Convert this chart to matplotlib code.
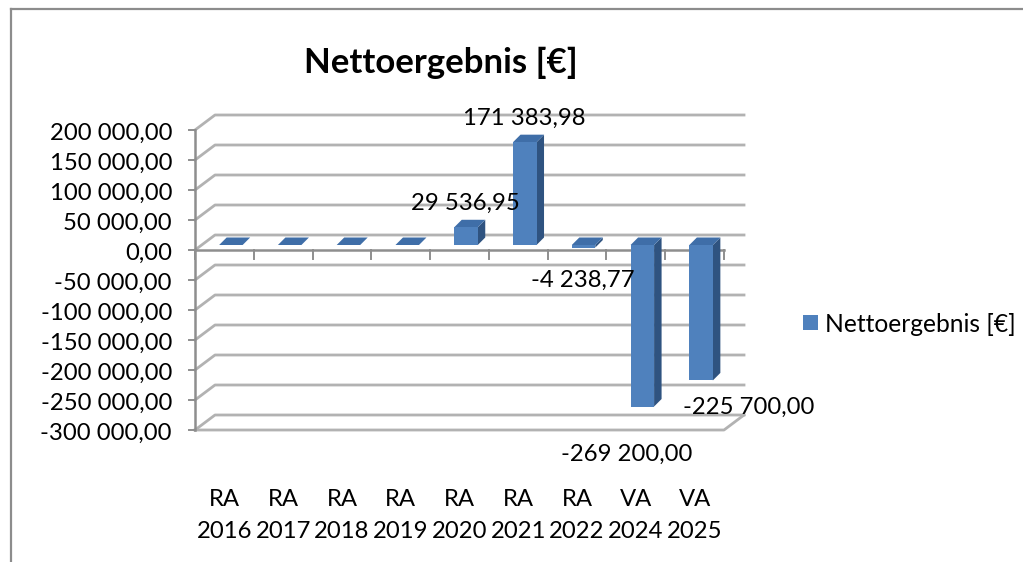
import matplotlib
matplotlib.use('Agg')
import matplotlib.pyplot as plt
from matplotlib.patches import Polygon

plt.rcParams['font.family'] = ['Lato', 'DejaVu Sans']

categories = ['RA\n2016', 'RA\n2017', 'RA\n2018', 'RA\n2019', 'RA\n2020', 'RA\n2021', 'RA\n2022', 'VA\n2024', 'VA\n2025']
values = [0, 0, 0, 0, 29536.95, 171383.98, -4238.77, -269200.00, -225700.00]
labels = [None, None, None, None, '29 536,95', '171 383,98', '-4 238,77', '-269 200,00', '-225 700,00']
label_pos = [None, None, None, None, (465, 201), (524, 116), (583, 278), (627, 452), (749, 405)]
y_ticks = list(range(-300000, 200001, 50000))

W, H = 1023, 562
FS = 17.2
fig = plt.figure(figsize=(W / 100, H / 100), dpi=100)
# plot area in pixels: x 195-724, y 130-430
ax = fig.add_axes([195 / W, 1 - 430 / H, 529 / W, 300 / H])
ax.set_xlim(0, len(categories))
ax.set_ylim(-300000, 200000)
ax.axis('off')

per_x = 529 / len(categories)   # px per category
per_y = 300 / 500000            # px per euro
GRID = '#b2b2b2'
AXC = '#8e8e8e'


def px(x0, dx=0):
    return x0 + dx / per_x


def py(y0, dy=0):
    return y0 + dy / per_y


# chart frame, only top and left are visible
fig.add_artist(plt.Line2D([11 / W, 1], [1 - 9 / H, 1 - 9 / H], color='#8c8c8c', lw=1.6))
fig.add_artist(plt.Line2D([11 / W, 11 / W], [0, 1 - 9 / H], color='#8c8c8c', lw=1.6))

# gridlines on the side and back wall
n = len(categories)
for t in y_ticks:
    ax.plot([0, px(0, 20), px(n, 20)], [t, py(t, 15), py(t, 15)], color=GRID, lw=2,
            clip_on=False, zorder=1)

# floor
ax.plot([0, n, px(n, 20)], [-300000, -300000, py(-300000, 15)], color=GRID, lw=2, clip_on=False, zorder=1)

# value axis and category axis with ticks
ax.plot([0, 0], [-300000, 200000], color=AXC, lw=1.8, clip_on=False, zorder=2)
for t in y_ticks:
    ax.plot([px(0, -6), 0], [t, t], color=AXC, lw=1.4, clip_on=False, zorder=2)
    txt = f'{t:,.2f}'.replace(',', ' ').replace('.', ',')
    ax.text(px(0, -23), py(t, -1), txt, ha='right', va='center_baseline', fontsize=FS, color='black', clip_on=False)
ax.plot([0, n], [0, 0], color=AXC, lw=1.8, clip_on=False, zorder=2)
for i in range(n + 1):
    ax.plot([i, i], [0, py(0, -9)], color=AXC, lw=1.4, clip_on=False, zorder=2)

# bars with fake depth
FRONT = '#4f81bd'
TOP = '#3f6ea8'
SIDE = '#2f5380'
bw = 23.5
depth = 7.5
for i, v in enumerate(values):
    x0 = px(i + 0.5, 6.5 - bw / 2)
    x1 = px(x0, bw)
    base = py(0, 5)
    top = base + max(v, 0)
    bot = base + min(v, 0)
    xd = px(x1, depth)
    x0d = px(x0, depth)
    ztop = 3 if v >= 0 else 6
    ax.add_patch(Polygon([(x1, bot), (xd, py(bot, depth)), (xd, py(top, depth)), (x1, top)], closed=True,
                         fc=SIDE, ec='none', zorder=ztop, clip_on=False))
    ax.add_patch(Polygon([(x0, top), (x0d, py(top, depth)), (xd, py(top, depth)), (x1, top)], closed=True,
                         fc=TOP, ec='none', zorder=ztop, clip_on=False))
    ax.add_patch(Polygon([(x0, bot), (x1, bot), (x1, top), (x0, top)], closed=True,
                         fc=FRONT, ec='none', zorder=ztop, clip_on=False))

# data labels, placed by hand in the original too
for lab, pos in zip(labels, label_pos):
    if lab:
        fig.text(pos[0] / W, 1 - pos[1] / H, lab, ha='center', va='center_baseline', fontsize=FS, color='black', zorder=10)

# category labels
for i, c in enumerate(categories):
    first, second = c.split('\n')
    ax.text(i + 0.5, py(-300000, -68), first, ha='center', va='center_baseline', fontsize=FS, clip_on=False)
    ax.text(i + 0.5, py(-300000, -99), second, ha='center', va='center_baseline', fontsize=FS, clip_on=False)

fig.text(441 / W, 1 - 60 / H, 'Nettoergebnis [€]', ha='center', va='center_baseline', fontsize=25, fontweight='bold')

# legend
fig.patches.append(plt.Rectangle((803 / W, 1 - 330 / H), 15 / W, 15 / H, transform=fig.transFigure, fc=FRONT, ec='none'))
fig.text(825 / W, 1 - 322 / H, 'Nettoergebnis [€]', ha='left', va='center_baseline', fontsize=17.7)

fig.savefig('out.png', dpi=100)
